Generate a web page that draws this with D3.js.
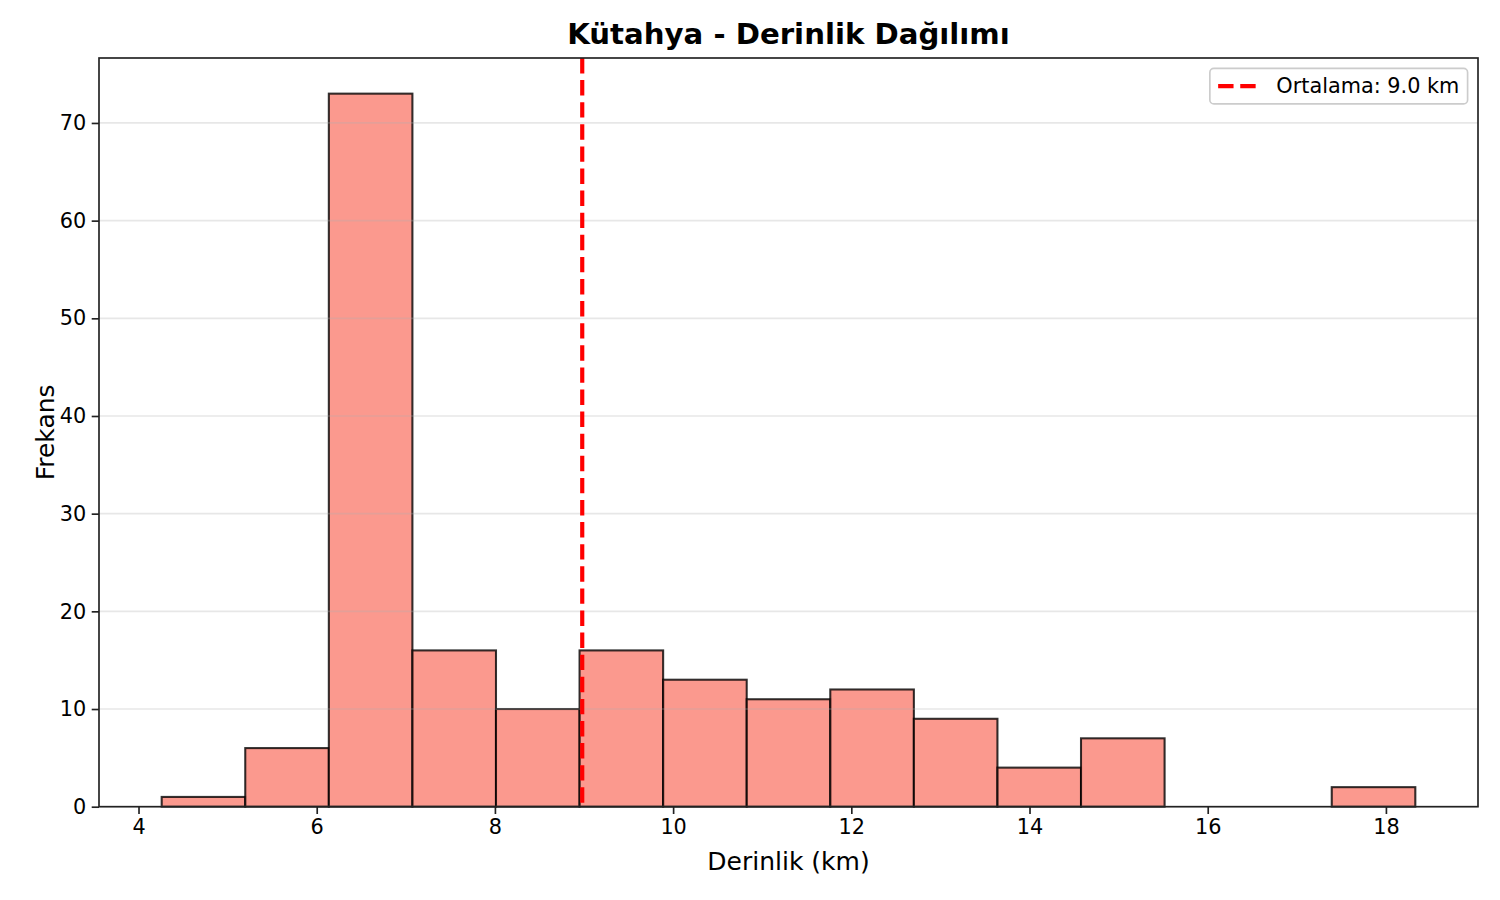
<!DOCTYPE html>
<html>
<head>
<meta charset="utf-8">
<script src="https://cdn.jsdelivr.net/npm/d3@7"></script>
<style>
  html, body { margin: 0; padding: 0; background: #fff; }
  svg { display: block; font-family: "DejaVu Sans", sans-serif; }
</style>
</head>
<body>
<svg id="chart"></svg>
<script>
// histogram bins (km) and counts
const binEdges = [4.26, 5.198, 6.136, 7.074, 8.012, 8.95, 9.888, 10.826, 11.764, 12.702, 13.64, 14.578, 15.516, 16.454, 17.392, 18.33];
const binCounts = [1, 6, 73, 16, 10, 16, 13, 11, 12, 9, 4, 7, 0, 0, 2];
const meanDepth = 8.98;
const xTicks = [4, 6, 8, 10, 12, 14, 16, 18];
const yTicks = [0, 10, 20, 30, 40, 50, 60, 70];

const width = 1500, height = 900;
const margin = { left: 99, right: 22, top: 58, bottom: 93.3 };
const iw = width - margin.left - margin.right;
const ih = height - margin.top - margin.bottom;

const bins = binCounts.map((c, i) => ({ x0: binEdges[i], x1: binEdges[i + 1], count: c }));

const lo = binEdges[0], hi = binEdges[binEdges.length - 1];
const pad = (hi - lo) * 0.05;
const x = d3.scaleLinear().domain([lo - pad, hi + pad]).range([0, iw]);
const y = d3.scaleLinear().domain([0, d3.max(binCounts) * 1.05]).range([ih, 0]);

const svg = d3.select("#chart")
    .attr("width", width)
    .attr("height", height);

const g = svg.append("g")
    .attr("transform", `translate(${margin.left},${margin.top})`);

// bars
g.append("g")
    .selectAll("rect")
    .data(bins.filter(d => d.count > 0))
    .join("rect")
    .attr("x", d => x(d.x0))
    .attr("y", d => y(d.count))
    .attr("width", d => x(d.x1) - x(d.x0))
    .attr("height", d => y(0) - y(d.count))
    .attr("fill", "#fa8072")
    .attr("fill-opacity", 0.8)
    .attr("stroke", "#000")
    .attr("stroke-opacity", 0.8)
    .attr("stroke-width", 2.08);

// y grid, drawn over bars like matplotlib does
g.append("g")
    .selectAll("line")
    .data(yTicks)
    .join("line")
    .attr("x1", 0)
    .attr("x2", iw)
    .attr("y1", d => y(d))
    .attr("y2", d => y(d))
    .attr("stroke", "#b0b0b0")
    .attr("stroke-opacity", 0.3)
    .attr("stroke-width", 1.67);

// mean line
g.append("line")
    .attr("x1", x(meanDepth))
    .attr("x2", x(meanDepth))
    .attr("y1", 0)
    .attr("y2", ih)
    .attr("stroke", "red")
    .attr("stroke-width", 4.17)
    .attr("stroke-dasharray", "15.4,6.7");

// axes
const xAxis = g.append("g")
    .attr("transform", `translate(0,${ih})`)
    .call(d3.axisBottom(x).tickValues(xTicks).tickFormat(d3.format("d")).tickSize(7.3).tickPadding(5.5));
const yAxis = g.append("g")
    .call(d3.axisLeft(y).tickValues(yTicks).tickFormat(d3.format("d")).tickSize(7.3).tickPadding(5.5));

[xAxis, yAxis].forEach(a => {
    a.select(".domain").remove();
    a.selectAll(".tick line").attr("stroke", "#222").attr("stroke-width", 1.67);
    a.selectAll(".tick text")
        .attr("font-size", 20.8)
        .attr("font-family", "DejaVu Sans")
        .attr("fill", "#000");
});

// frame
g.append("rect")
    .attr("width", iw)
    .attr("height", ih)
    .attr("fill", "none")
    .attr("stroke", "#222")
    .attr("stroke-width", 1.67);

// title and labels
svg.append("text")
    .attr("x", margin.left + iw / 2)
    .attr("y", 44)
    .attr("text-anchor", "middle")
    .attr("font-size", 29.2)
    .attr("font-weight", "bold")
    .text("Kütahya - Derinlik Dağılımı");

svg.append("text")
    .attr("x", margin.left + iw / 2)
    .attr("y", 870)
    .attr("text-anchor", "middle")
    .attr("font-size", 25)
    .text("Derinlik (km)");

svg.append("text")
    .attr("transform", `translate(54,${margin.top + ih / 2}) rotate(-90)`)
    .attr("text-anchor", "middle")
    .attr("font-size", 25)
    .text("Frekans");

// legend
const legendLabel = `Ortalama: ${meanDepth.toFixed(1)} km`;
const lg = g.append("g").attr("transform", `translate(${iw - 10.4},10.4)`);
const lgText = lg.append("text")
    .attr("font-size", 20.8)
    .attr("y", 24.5)
    .text(legendLabel);
const tw = lgText.node().getComputedTextLength();
const boxW = 8.3 + 41.6 + 16.6 + tw + 8.3;
const boxH = 35.5;
lg.insert("rect", "text")
    .attr("x", -boxW)
    .attr("y", 0)
    .attr("width", boxW)
    .attr("height", boxH)
    .attr("rx", 4)
    .attr("fill", "#fff")
    .attr("fill-opacity", 0.8)
    .attr("stroke", "#cccccc")
    .attr("stroke-width", 1.67);
lg.insert("line", "text")
    .attr("x1", -boxW + 8.3)
    .attr("x2", -boxW + 8.3 + 41.6)
    .attr("y1", boxH / 2)
    .attr("y2", boxH / 2)
    .attr("stroke", "red")
    .attr("stroke-width", 4.17)
    .attr("stroke-dasharray", "15.4,6.7");
lgText.attr("x", -boxW + 8.3 + 41.6 + 16.6);
</script>
</body>
</html>
